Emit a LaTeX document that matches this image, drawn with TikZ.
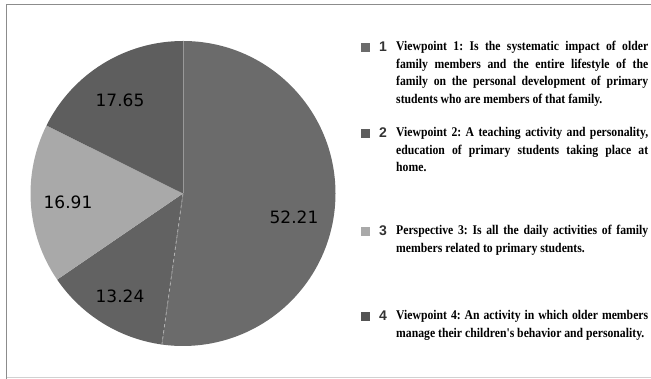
\documentclass[tikz,border=0pt]{standalone}
\usepackage{fontspec}
\usetikzlibrary{calc}
\newfontfamily\valfont{DejaVu Sans}
\newfontfamily\numfont{Liberation Sans}
\newfontfamily\legfont{Liberation Serif}[FakeStretch=0.88]
\definecolor{sliceone}{HTML}{6B6B6B}
\definecolor{slicetwo}{HTML}{626262}
\definecolor{slicethree}{HTML}{A9A9A9}
\definecolor{slicefour}{HTML}{5E5E5E}
\definecolor{frameline}{HTML}{8C8C8C}
\tikzset{
  val/.style={font=\valfont\fontsize{17}{17}\selectfont, inner sep=0pt},
  keybox/.style={fill=#1, minimum size=9pt, inner sep=0pt},
  keynum/.style={font=\numfont\bfseries\fontsize{14}{14}\selectfont, text=black!80, inner sep=0pt, anchor=base},
  keytext/.style={font=\legfont\bfseries\frenchspacing\fontsize{13.3}{17.5}\selectfont,
    text width=252pt, align=justify, inner sep=0pt, anchor=base west}
}
\begin{document}
\begin{tikzpicture}[x=1pt, y=1pt]
    \useasboundingbox (0, 0) rectangle (651, 379);
    % frame
    \draw[frameline, line width=1.5pt] (6.5, 0) -- (6.5, 374.5) -- (651, 374.5);
    \draw[black!18] (6.5, 1.5) -- (651, 1.5);
    % pie
    \coordinate (O) at (183, 185.5);
    \fill[sliceone] (O) -- ++(90:152.5) arc[start angle=90, end angle=-97.96, radius=152.5] -- cycle;
    \fill[slicetwo] (O) -- ++(-97.96:152.5) arc[start angle=-97.96, end angle=-145.62, radius=152.5] -- cycle;
    \fill[slicethree] (O) -- ++(-145.62:152.5) arc[start angle=-145.62, end angle=-206.5, radius=152.5] -- cycle;
    \fill[slicefour] (O) -- ++(-206.5:152.5) arc[start angle=-206.5, end angle=-270, radius=152.5] -- cycle;
    \coordinate (top) at ($(O)+(90:152.5)$);
    \coordinate (bot) at ($(O)+(-97.96:152.5)$);
    \draw[black!40, line width=1pt] (O) -- (top);
    \draw[black!30, dashed, line width=0.8pt] (O) -- (bot);
    \node[val] (v1) at (294, 162) {52.21};
    \node[val] (v2) at (120, 83) {13.24};
    \node[val] (v3) at (68, 177) {16.91};
    \node[val] (v4) at (120, 279) {17.65};
    % legend
    \node[keybox=sliceone] (k1) at (365.5, 331.8) {};
    \node[keynum] (n1) at (383, 327) {1};
    \node[keytext] (t1) at (396, 328) {Viewpoint 1: Is the systematic impact of older\linebreak
      family members and the entire lifestyle of the\linebreak
      family on the personal development of primary\linebreak
      students who are members of that family.};
    \node[keybox=slicefour] (k2) at (365.5, 245.8) {};
    \node[keynum] (n2) at (383, 241) {2};
    \node[keytext] (t2) at (396, 242) {Viewpoint 2: A teaching activity and personality,\linebreak
      education of primary students taking place at\linebreak
      home.};
    \node[keybox=slicethree] (k3) at (365.5, 147.8) {};
    \node[keynum] (n3) at (383, 143) {3};
    \node[keytext] (t3) at (396, 144) {Perspective 3: Is all the daily activities of family\linebreak
      members related to primary students.};
    \node[keybox=black!67] (k4) at (365.5, 62.8) {};
    \node[keynum] (n4) at (383, 58) {4};
    \node[keytext] (t4) at (396, 59) {Viewpoint 4: An activity in which older members\linebreak
      manage their children's behavior and personality.};
\end{tikzpicture}
\end{document}
